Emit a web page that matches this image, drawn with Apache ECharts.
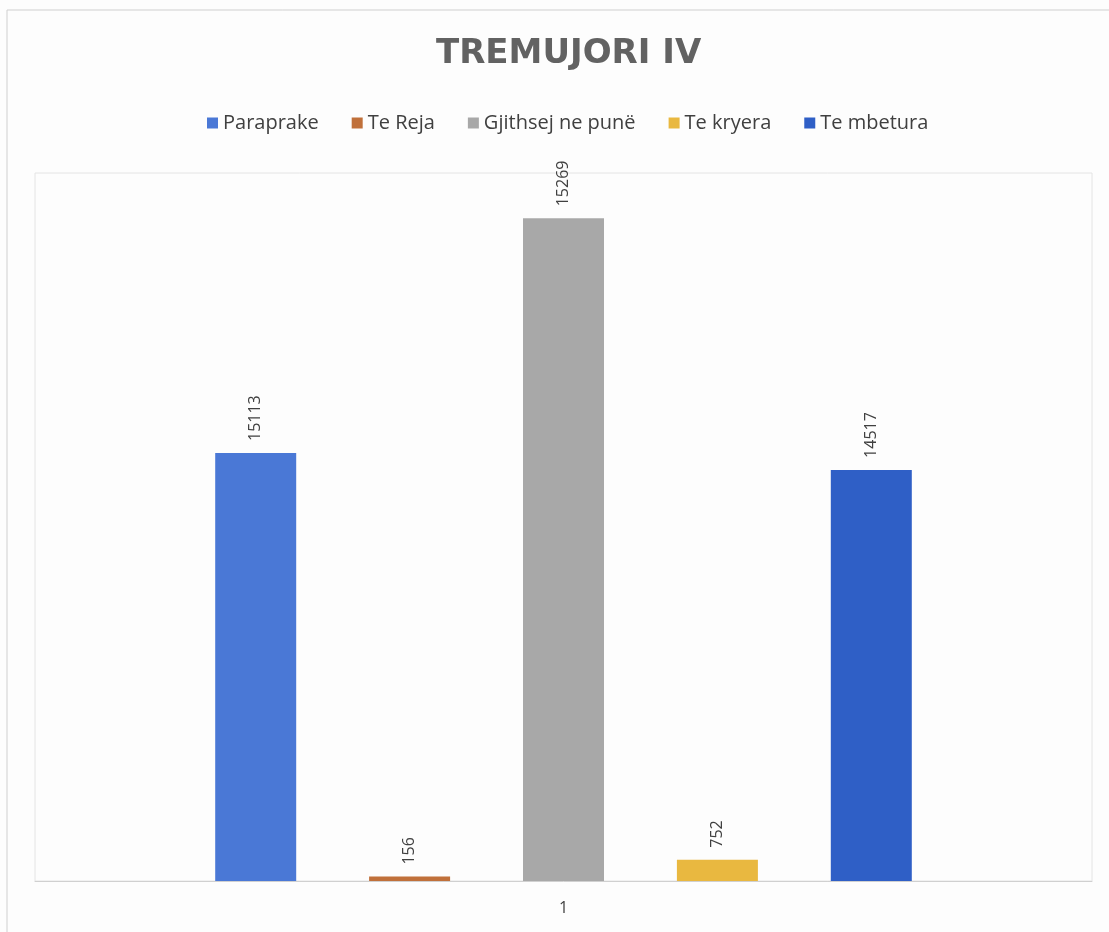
<!DOCTYPE html>
<html>
<head>
<meta charset="utf-8">
<script src="https://cdn.jsdelivr.net/npm/echarts@6/dist/echarts.min.js"></script>
<style>
  * { margin: 0; padding: 0; }
  body { background: #fdfdfd; }
  #main { width: 1109px; height: 932px; }
</style>
</head>
<body>
<div id="main"></div>
<script>
// kategoria e vetme
const categories = ["1"];
const seriesNames = ["Paraprake", "Te Reja", "Gjithsej ne punë", "Te kryera", "Te mbetura"];
// lartesia e shtyllave ashtu si jane vizatuar ne figure
const barValues = [15113, 156, 23400, 752, 14517];
// etiketat e shkruara mbi shtylla
const labelValues = ["15113", "156", "15269", "752", "14517"];
const colors = ["#4a78d6", "#c0703a", "#a8a8a8", "#e9b840", "#2f5fc6"];

const chart = echarts.init(document.getElementById("main"));

const series = seriesNames.map((name, i) => ({
  name: name,
  type: "bar",
  data: [barValues[i]],
  barWidth: 81,
  barGap: "90%",
  itemStyle: { color: colors[i] },
  label: {
    show: true,
    position: "top",
    rotate: 90,
    align: "left",
    verticalAlign: "middle",
    distance: 12,
    fontSize: 16,
    fontFamily: "Open Sans",
    color: "#404040",
    formatter: () => labelValues[i]
  }
}));

const option = {
  backgroundColor: "#fdfdfd",
  animation: false,
  title: {
    text: "TREMUJORI IV",
    left: 431,
    top: 32,
    textStyle: {
      fontFamily: "DejaVu Sans",
      fontSize: 34,
      fontWeight: "bold",
      color: "#626262"
    }
  },
  legend: {
    top: 108,
    left: 202,
    itemWidth: 11,
    itemHeight: 11,
    itemGap: 33,
    icon: "rect",
    textStyle: { fontFamily: "Open Sans", fontSize: 20, color: "#404040" },
    data: seriesNames
  },
  grid: {
    show: true,
    borderColor: "#e4e4e4",
    borderWidth: 1,
    left: 35,
    right: 17,
    top: 173,
    bottom: 51
  },
  xAxis: {
    type: "category",
    data: categories,
    axisLine: { lineStyle: { color: "#d0d0d0" } },
    axisTick: { show: false },
    axisLabel: { fontFamily: "Open Sans", fontSize: 16, color: "#404040", margin: 19 }
  },
  yAxis: {
    type: "value",
    min: 0,
    max: 25000,
    show: false,
    splitLine: { show: false }
  },
  graphic: [
    {
      type: "polyline",
      shape: { points: [[7, 932], [7, 10], [1109, 10]] },
      style: { stroke: "#cfcfcf", lineWidth: 1, fill: null },
      silent: true
    }
  ],
  series: series
};

chart.setOption(option);
</script>
</body>
</html>
